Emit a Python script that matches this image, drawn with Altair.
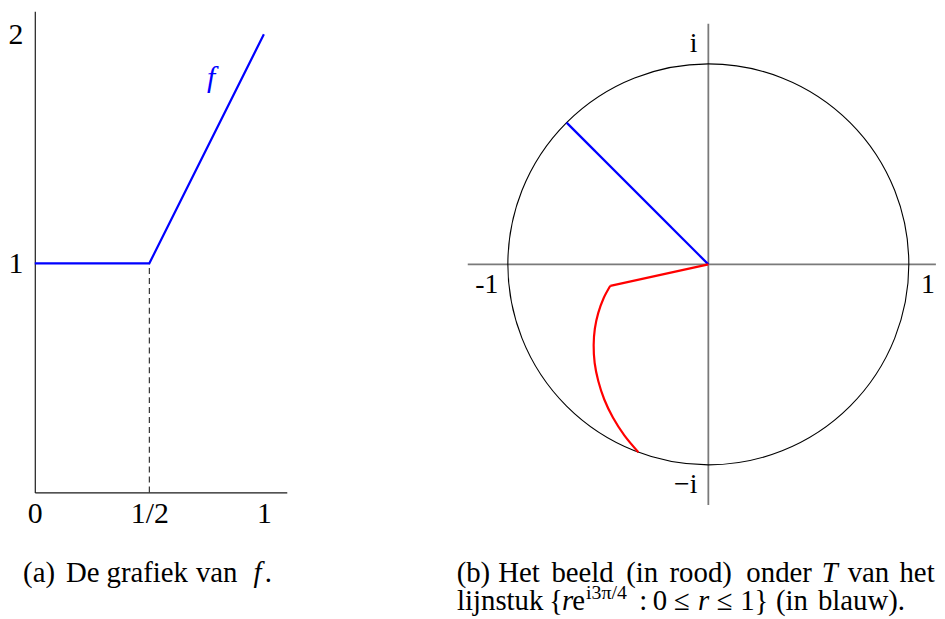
import altair as alt
import pandas as pd

FONT = "Liberation Serif"

# ---------------- data: panel (a), graph of f ----------------
f_x = [0.0, 0.5, 1.0]
f_y = [1.0, 1.0, 2.0]
dash_x = [0.5, 0.5]
dash_y = [0.0, 1.0]
a_xticks = [0.0, 0.5, 1.0]
a_xtick_labels = ["0", "1/2", "1"]
a_yticks = [1.0, 2.0]
a_ytick_labels = ["1", "2"]
f_name = ["f"]
f_name_x = [0.77]
f_name_y = [1.81]

# ---------------- data: panel (b), image under T ----------------
circle_r = [1.0]
blue_x = [0.0, -0.707]
blue_y = [0.0, 0.707]
red_seg_x = [0.0, -0.489]
red_seg_y = [0.0, -0.107]
red_curve_x = [-0.489, -0.523, -0.549, -0.566, -0.572, -0.567, -0.549, -0.519, -0.476, -0.419, -0.349]
red_curve_y = [-0.107, -0.170, -0.242, -0.320, -0.404, -0.492, -0.582, -0.674, -0.764, -0.853, -0.937]
b_hlabels = ["-1", "1"]
b_hlabel_x = [-1.1, 1.1]
b_vlabels = ["i", "\u2212i"]
b_vlabel_y = [1.1, -1.1]
b_haxis = [-1.2, 1.135]
b_vaxis = [-1.2, 1.2]

# captions: (text, page x centre, page baseline y, italic, size)
cap_a = [
    ("(a)", 39, 585, False, 29), ("De", 83, 585, False, 29), ("grafiek", 148, 585, False, 29),
    ("van", 218, 585, False, 29), ("f", 259, 585, True, 29), (".", 270, 585, False, 29),
]
cap_b = [
    ("(b)", 472, 585, False, 29), ("Het", 518, 585, False, 29), ("beeld", 582, 585, False, 29),
    ("(in", 642, 585, False, 29), ("rood)", 701, 585, False, 29), ("onder", 780, 585, False, 29),
    ("T", 831, 585, True, 29), ("van", 870, 585, False, 29), ("het", 919, 585, False, 29),
    ("lijnstuk", 499, 613, False, 29), ("{", 555, 613, False, 29), ("r", 567, 613, True, 29),
    ("e", 578, 613, False, 29), ("i3\u03c0/4", 606, 602, False, 20), (":", 643, 613, False, 29),
    ("0", 660, 613, False, 29), ("\u2264", 682, 613, False, 29), ("r", 704, 613, True, 29),
    ("\u2264", 725, 613, False, 29), ("1}", 755, 613, False, 29), ("(in", 793, 613, False, 29),
    ("blauw).", 863, 613, False, 29),
]

# ---------------- layout (pixels) ----------------
A_UNIT = 230.8
B_UNIT = 202.0
A_LEFT, TOP = 34.7, 9.6
A_DX = [0.0, 1.1]
A_DY = [0.0, 2.1]
A_W = (A_DX[1] - A_DX[0]) * A_UNIT
A_H = (A_DY[1] - A_DY[0]) * A_UNIT
B_CX, B_CY = 708.7, 264.5
B_DX = [-1.2, 1.135]
B_DY = [-1.2, (B_CY - TOP) / B_UNIT]
B_W = (B_DX[1] - B_DX[0]) * B_UNIT
B_H = (B_DY[1] - B_DY[0]) * B_UNIT
B_LEFT = B_CX + B_DX[0] * B_UNIT
SPACING = B_LEFT - A_LEFT - A_W + 4.5

one = alt.Data(values=[{"k": 1}])


def label_expr(vals, labs):
    expr = "''"
    for v, l in zip(vals, labs):
        expr = f"abs(datum.value - {v}) < 1e-6 ? '{l}' : ({expr})"
    return expr


def caption_layers(words, left, top):
    out = []
    for txt, px, py, ital, size in words:
        kw = dict(text=txt, font=FONT, fontSize=size, align="center", baseline="alphabetic", color="black")
        if ital:
            kw["fontStyle"] = "italic"
        out.append(alt.Chart(one).mark_text(**kw).encode(x=alt.value(px - left), y=alt.value(py - top)))
    return out


# ---------------- panel (a) ----------------
xs_a = alt.Scale(domain=A_DX, nice=False, zero=False)
ys_a = alt.Scale(domain=A_DY, nice=False, zero=False)
axis_common = dict(ticks=False, tickSize=0, grid=False, domainColor="#1a1a1a", domainWidth=1.2,
                   labelFont=FONT, labelFontSize=30, labelColor="black", labelFlush=False,
                   labelOverlap=False, title=None)
ax_x = alt.Axis(values=a_xticks, labelExpr=label_expr(a_xticks, a_xtick_labels), labelPadding=6,
                **axis_common)
ax_y = alt.Axis(values=a_yticks, labelExpr=label_expr(a_yticks, a_ytick_labels), labelPadding=12,
                **axis_common)


def XA(f):
    return alt.X(f, type="quantitative", scale=xs_a, axis=ax_x)


def YA(f):
    return alt.Y(f, type="quantitative", scale=ys_a, axis=ax_y)


df_f = pd.DataFrame({"x": f_x, "y": f_y})
df_dash = pd.DataFrame({"x": dash_x, "y": dash_y})
df_fname = pd.DataFrame({"x": f_name_x, "y": f_name_y, "t": f_name})

a_layers = [
    alt.Chart(df_dash).mark_line(color="#222222", strokeWidth=1.1, strokeDash=[6, 4]).encode(x=XA("x"), y=YA("y")),
    alt.Chart(df_f).mark_line(color="#0000ff", strokeWidth=2.2).encode(x=XA("x"), y=YA("y")),
    alt.Chart(df_fname).mark_text(font=FONT, fontSize=30, fontStyle="italic", color="#0000ff").encode(
        x=XA("x"), y=YA("y"), text="t:N"),
    alt.Chart(one).mark_rule(strokeOpacity=0, strokeWidth=1).encode(
        x=alt.value(-26.2), x2=alt.value(-26.2), y=alt.value(200), y2=alt.value(210)),
] + caption_layers(cap_a, A_LEFT, TOP)

panel_a = alt.layer(*a_layers).properties(width=A_W, height=A_H)

# ---------------- panel (b) ----------------
xs_b = alt.Scale(domain=B_DX, nice=False, zero=False)
ys_b = alt.Scale(domain=B_DY, nice=False, zero=False)


def XB(f):
    return alt.X(f, type="quantitative", scale=xs_b, axis=None)


def YB(f):
    return alt.Y(f, type="quantitative", scale=ys_b, axis=None)


df_axes = pd.DataFrame({"x": [b_haxis[0], 0.0], "x2": [b_haxis[1], 0.0],
                        "y": [0.0, b_vaxis[0]], "y2": [0.0, b_vaxis[1]]})
df_circle = pd.DataFrame({"x": [0.0], "y": [0.0]})
df_blue = pd.DataFrame({"x": blue_x, "y": blue_y, "i": list(range(len(blue_x)))})
df_red = pd.concat([
    pd.DataFrame({"x": red_seg_x, "y": red_seg_y, "part": "seg", "i": list(range(len(red_seg_x)))}),
    pd.DataFrame({"x": red_curve_x, "y": red_curve_y, "part": "curve", "i": list(range(len(red_curve_x)))}),
])
df_hl = pd.DataFrame({"x": b_hlabel_x, "y": [0.0] * len(b_hlabel_x), "t": b_hlabels})
df_vl = pd.DataFrame({"x": [0.0] * len(b_vlabel_y), "y": b_vlabel_y, "t": b_vlabels})

b_layers = [
    alt.Chart(df_axes).mark_rule(color="#7a7a7a", strokeWidth=1.8).encode(
        x=XB("x"), x2="x2:Q", y=YB("y"), y2="y2:Q"),
    alt.Chart(df_circle).mark_point(shape="circle", filled=False, size=(2 * circle_r[0] * B_UNIT) ** 2,
                                    color="black", strokeWidth=1.1, opacity=1).encode(x=XB("x"), y=YB("y")),
    alt.Chart(df_blue).mark_line(color="#0000ff", strokeWidth=2.2).encode(
        x=XB("x"), y=YB("y"), order="i:Q"),
    alt.Chart(df_red).mark_line(color="#ff0000", strokeWidth=2.2, interpolate="catmull-rom").encode(
        x=XB("x"), y=YB("y"), detail="part:N", order="i:Q"),
    alt.Chart(df_hl).mark_text(font=FONT, fontSize=28, color="black", dy=21, dx=-1).encode(
        x=XB("x"), y=YB("y"), text="t:N"),
    alt.Chart(df_vl).mark_text(font=FONT, fontSize=28, color="black", align="right", dx=-11).encode(
        x=XB("x"), y=YB("y"), text="t:N"),
] + caption_layers(cap_b, B_LEFT, TOP)

panel_b = alt.layer(*b_layers).properties(width=B_W, height=B_H)

chart = alt.hconcat(panel_a, panel_b, spacing=SPACING, bounds="flush").properties(
    padding={"left": 0, "top": 1.1, "right": 0, "bottom": 0}, background="white"
).configure_view(strokeWidth=0)

chart.save("out.html", embed_options={"renderer": "svg", "actions": False})
